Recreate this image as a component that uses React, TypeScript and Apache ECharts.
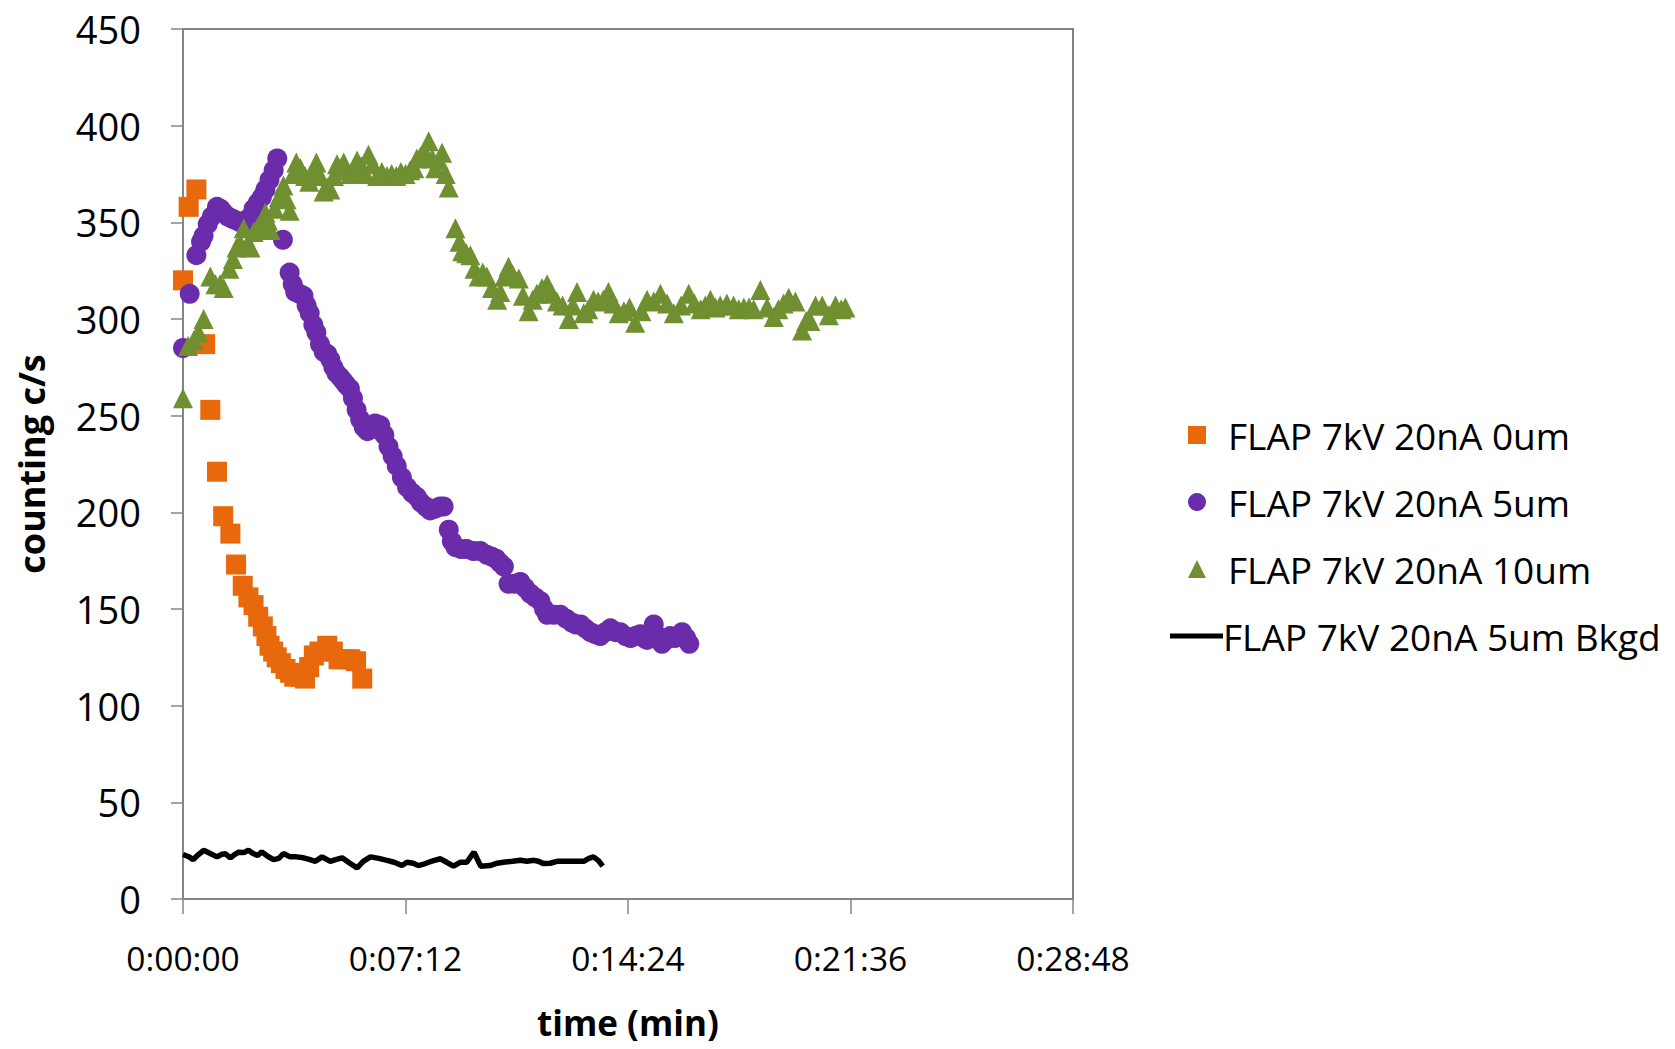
import React, { useEffect, useRef } from "react";
import * as echarts from "echarts";

// time in seconds, counts in c/s
const series0um: [number, number][] = [
  [0, 320], [11, 358], [26, 367], [43, 287], [53, 253], [66, 221], [78, 198], [92, 189], [103, 173],
  [116, 162], [127, 156], [137, 152], [146, 146], [155, 141], [162, 136], [168, 131], [175, 128],
  [182, 125], [190, 122], [199, 119], [208, 117], [216, 115], [227, 115], [237, 114], [245, 120],
  [254, 126], [265, 128], [280, 131], [291, 128], [302, 124], [313, 124], [325, 124], [336, 123], [348, 114],
];

const series5um: [number, number][] = [
  [0, 285], [13, 313], [26, 333], [35, 340], [40, 343], [48, 349], [56, 353], [66, 358], [73, 357],
  [79, 355], [87, 353], [95, 352], [103, 351], [111, 350], [119, 350], [127, 352], [137, 357], [145, 360],
  [153, 363], [160, 367], [168, 372], [176, 377], [183, 383], [194, 341], [207, 324], [213, 318],
  [218, 314], [226, 313], [234, 312], [240, 307], [246, 303], [253, 297], [259, 293], [266, 287],
  [273, 283], [280, 282], [286, 279], [292, 275], [298, 272], [305, 270], [311, 268], [317, 266],
  [324, 264], [330, 259], [337, 253], [344, 248], [351, 244], [358, 242], [365, 243], [373, 246],
  [378, 243], [383, 245], [391, 240], [399, 234], [407, 229], [415, 224], [425, 218], [435, 213],
  [445, 210], [454, 208], [462, 205], [471, 203], [480, 201], [490, 202], [499, 203], [506, 203],
  [516, 191], [522, 185], [529, 182], [540, 181], [551, 181], [564, 180], [577, 180], [590, 178],
  [600, 177], [608, 176], [615, 174], [623, 172], [632, 163], [644, 163], [655, 164], [664, 161],
  [674, 158], [684, 156], [694, 154], [701, 150], [707, 147], [720, 147], [733, 147], [744, 145],
  [755, 143], [763, 142], [772, 142], [781, 140], [791, 138], [800, 137], [810, 136], [820, 138],
  [830, 140], [840, 138], [849, 138], [859, 136], [869, 135], [878, 136], [888, 137], [895, 135],
  [901, 134], [908, 137], [914, 142], [922, 136], [930, 132], [938, 134], [946, 136], [955, 135],
  [962, 136], [969, 138], [977, 135], [983, 132],
];

const series10um: [number, number][] = [
  [0, 259], [10, 286], [21, 289], [30, 293], [40, 300], [53, 322], [63, 318], [72, 318], [79, 316],
  [90, 326], [97, 331], [104, 337], [111, 339], [118, 347], [125, 338], [131, 337], [137, 345],
  [144, 347], [152, 350], [160, 355], [165, 351], [170, 346], [178, 357], [186, 363], [195, 369],
  [201, 362], [207, 356], [214, 375], [220, 381], [228, 378], [237, 374], [245, 371], [252, 376],
  [259, 381], [266, 374], [273, 366], [280, 368], [286, 367], [293, 374], [299, 380], [305, 378],
  [312, 381], [318, 377], [325, 375], [331, 378], [338, 382], [346, 379], [354, 375], [360, 385],
  [368, 380], [377, 374], [386, 376], [396, 374], [405, 375], [414, 374], [423, 376], [432, 375],
  [441, 377], [449, 378], [454, 383], [461, 384], [470, 386], [477, 392], [484, 383], [490, 378],
  [497, 382], [503, 386], [510, 375], [516, 368], [529, 347], [537, 340], [542, 335], [550, 334],
  [558, 333], [566, 326], [574, 322], [582, 324], [590, 322], [600, 316], [610, 310], [616, 314],
  [624, 322], [632, 327], [640, 323], [652, 321], [660, 312], [671, 304], [679, 310], [687, 313],
  [697, 316], [707, 318], [716, 313], [726, 309], [737, 307], [749, 300], [757, 307], [765, 314],
  [778, 303], [787, 305], [797, 310], [806, 309], [816, 310], [826, 314], [836, 308], [846, 303],
  [856, 304], [867, 306], [878, 298], [890, 304], [901, 310], [914, 309], [927, 313], [940, 308],
  [953, 303], [967, 307], [982, 313], [993, 308], [1005, 305], [1014, 307], [1024, 310], [1034, 306],
  [1043, 307], [1056, 308], [1069, 307], [1079, 305], [1089, 306], [1099, 306], [1108, 305],
  [1121, 315], [1134, 306], [1147, 301], [1156, 305], [1166, 308], [1176, 311], [1189, 309],
  [1202, 294], [1210, 299], [1218, 299], [1228, 307], [1241, 307], [1254, 302], [1267, 307],
  [1278, 305], [1286, 306],
];

const seriesBkgd: [number, number][] = [
  [0, 23], [10, 22], [20, 20.4], [30, 23], [40, 25.2], [53, 23.5], [66, 21.8], [74, 23], [82, 23.5],
  [92, 21.3], [100, 23], [108, 24.2], [118, 24], [127, 25.2], [136, 23.5], [145, 22.5], [153, 24.4],
  [165, 22], [176, 20.4], [186, 21], [195, 23.5], [208, 21.8], [220, 21.8], [234, 21.3], [245, 20.5],
  [257, 19.5], [270, 21.8], [286, 19.5], [298, 20.5], [309, 21.3], [324, 18.5], [338, 16.1],
  [350, 19.5], [364, 21.8], [380, 21], [396, 20], [410, 19], [425, 17.3], [435, 19], [447, 18.5],
  [457, 17.3], [467, 18], [477, 19], [488, 20], [500, 20.8], [512, 19], [525, 17], [538, 19],
  [551, 19], [565, 24.2], [578, 17], [596, 17.3], [610, 18.5], [622, 19], [640, 19.5], [655, 20],
  [668, 19.5], [681, 20], [690, 19.5], [700, 18.3], [713, 18.5], [726, 19.5], [740, 19.5], [752, 19.5],
  [765, 19.5], [778, 19.5], [788, 21], [797, 21.8], [806, 20], [815, 17],
];

const seriesNames = [
  "FLAP 7kV 20nA 0um",
  "FLAP 7kV 20nA 5um",
  "FLAP 7kV 20nA 10um",
  "FLAP 7kV 20nA 5um Bkgd",
];

const xMin = 0;
const xMax = 1728;
const xInterval = 432;
const yMin = 0;
const yMax = 450;
const yInterval = 50;

const FONT = "'Open Sans', 'Noto Sans', sans-serif";

function fmtTime(sec: number): string {
  const h = Math.floor(sec / 3600);
  const m = Math.floor((sec % 3600) / 60);
  const s = Math.round(sec % 60);
  return `${h}:${String(m).padStart(2, "0")}:${String(s).padStart(2, "0")}`;
}

const legendText = { fontFamily: FONT, fontSize: 37, color: "#000", lineHeight: 40 };

export default function App() {
  const ref = useRef<HTMLDivElement>(null);
  useEffect(() => {
    if (!ref.current) return;
    const chart = echarts.init(ref.current, undefined, { renderer: "svg" });
    chart.setOption({
      animation: false,
      backgroundColor: "#ffffff",
      grid: {
        left: 183,
        right: 602,
        top: 29,
        bottom: 150,
        containLabel: false,
        outerBoundsMode: "none",
        show: true,
        borderColor: "#595959",
        borderWidth: 1.5,
        backgroundColor: "transparent",
      },
      legend: [
        {
          orient: "vertical",
          left: 1183,
          top: 410,
          itemWidth: 18,
          itemHeight: 18,
          itemGap: 27,
          textStyle: { ...legendText, padding: [0, 0, 0, 17] },
          data: seriesNames.slice(0, 3),
        },
        {
          orient: "vertical",
          left: 1165,
          top: 611,
          itemWidth: 53,
          itemHeight: 5,
          icon: "rect",
          textStyle: { ...legendText, padding: [0, 0, 0, -5] },
          data: [seriesNames[3]],
        },
      ],
      xAxis: {
        type: "value",
        min: xMin,
        max: xMax,
        interval: xInterval,
        name: "time (min)",
        nameLocation: "middle",
        nameGap: 106,
        nameTextStyle: { fontFamily: FONT, fontSize: 35, fontWeight: "bold", color: "#000" },
        axisLine: { show: true, lineStyle: { color: "#868686", width: 1.5 } },
        axisTick: { show: true, length: 15, lineStyle: { color: "#868686", width: 1.5 } },
        axisLabel: {
          fontFamily: FONT,
          fontSize: 33.5,
          color: "#000",
          margin: 42,
          formatter: (v: number) => fmtTime(v),
        },
        splitLine: { show: false },
      },
      yAxis: {
        type: "value",
        min: yMin,
        max: yMax,
        interval: yInterval,
        name: "counting c/s",
        nameLocation: "middle",
        nameGap: 134,
        nameRotate: 90,
        nameTextStyle: { fontFamily: FONT, fontSize: 36, fontWeight: "bold", color: "#000" },
        axisLine: { show: true, lineStyle: { color: "#868686", width: 1.5 } },
        axisTick: { show: true, length: 12, lineStyle: { color: "#868686", width: 1.5 } },
        axisLabel: { fontFamily: FONT, fontSize: 38, color: "#000", margin: 42 },
        splitLine: { show: false },
      },
      series: [
        {
          name: seriesNames[0],
          type: "scatter",
          symbol: "rect",
          symbolSize: 20,
          itemStyle: { color: "#E8690C", opacity: 1 },
          data: series0um,
        },
        {
          name: seriesNames[1],
          type: "scatter",
          symbol: "circle",
          symbolSize: 20,
          itemStyle: { color: "#6A2CAA", opacity: 1 },
          data: series5um,
        },
        {
          name: seriesNames[2],
          type: "scatter",
          symbol: "triangle",
          symbolSize: 20,
          itemStyle: { color: "#6F8F30", opacity: 1 },
          data: series10um,
        },
        {
          name: seriesNames[3],
          type: "line",
          showSymbol: false,
          symbol: "none",
          lineStyle: { color: "#000000", width: 5.5 },
          itemStyle: { color: "#000000" },
          data: seriesBkgd,
        },
      ],
    });
    return () => chart.dispose();
  }, []);
  return <div ref={ref} style={{ width: 1675, height: 1049, margin: -8 }} />;
}
